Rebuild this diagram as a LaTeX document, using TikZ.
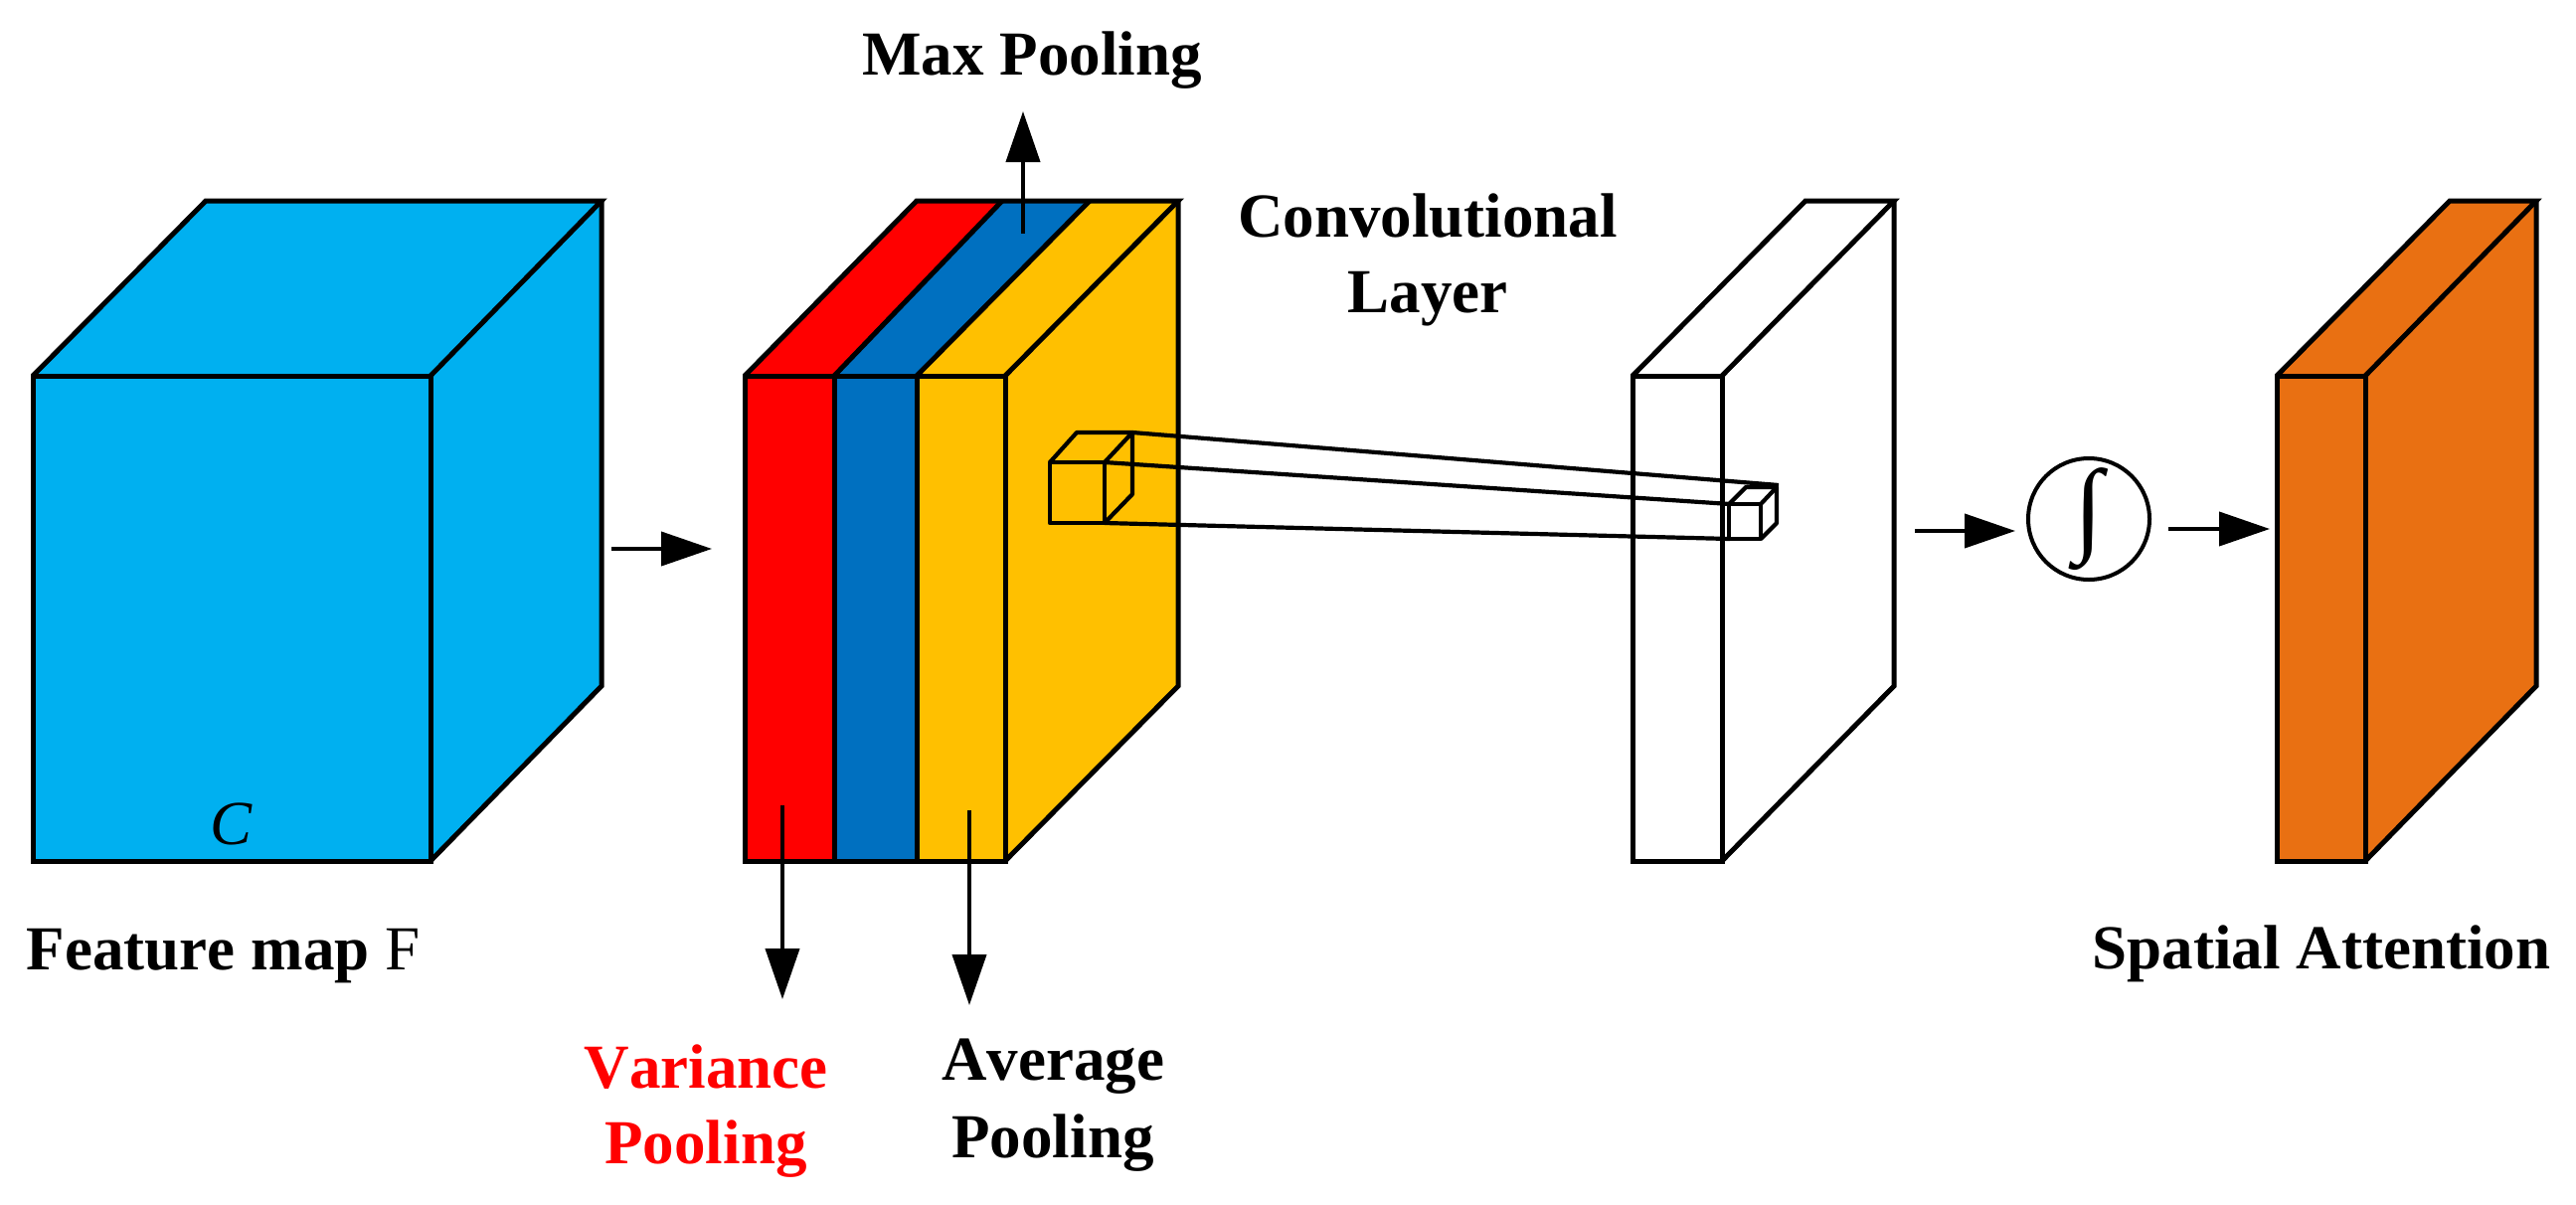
\documentclass[tikz,border=0pt]{standalone}
\usepackage{fontspec}
\setmainfont[Kerning=Off]{Liberation Serif}
\newfontfamily\intfont{Liberation Serif}
\usetikzlibrary{arrows.meta}
\definecolor{cyanface}{HTML}{00B0F0}
\definecolor{redface}{HTML}{FF0000}
\definecolor{blueface}{HTML}{0070C0}
\definecolor{yellowface}{HTML}{FFC000}
\definecolor{orangeface}{HTML}{E97012}
\tikzset{
  x=1pt,y=-1pt,
  edge/.style={draw=black,line width=5pt,line join=miter},
  thinedge/.style={draw=black,line width=4.2pt,line join=round},
  flow/.style={draw=black,line width=4pt,-{Triangle[length=51pt,width=34pt]},shorten >=0pt},
  lbl/.style={font=\fontsize{63}{70}\selectfont\bfseries,anchor=base,inner sep=0pt,outer sep=0pt},
}
\begin{document}
\begin{tikzpicture}
\useasboundingbox (0,0) rectangle (2591,1211);
% feature cube
\fill[cyanface] (33,378) -- (207,202) -- (605,202) -- (605,690) -- (433,866) -- (33,866) -- cycle;
\draw[edge] (33,378) rectangle (433,866);
\draw[edge] (33,378) -- (207,202) -- (605,202) -- (433,378);
\draw[edge] (605,202) -- (605,690) -- (433,866);
\node[anchor=base,inner sep=0pt,font=\fontsize{63}{70}\selectfont\itshape] (c) at (233,849) {C};
% pooling slab
\fill[redface] (749,378) -- (922,202) -- (1008,202) -- (839,378) -- (839,866) -- (749,866) -- cycle;
\fill[blueface] (839,378) -- (1008,202) -- (1096,202) -- (922,378) -- (922,866) -- (839,866) -- cycle;
\fill[yellowface] (922,378) -- (1096,202) -- (1185,202) -- (1185,690) -- (1011,866) -- (922,866) -- cycle;
\draw[edge] (749,378) rectangle (1011,866);
\draw[edge] (839,378) -- (839,866) (922,378) -- (922,866);
\draw[edge] (749,378) -- (922,202) -- (1185,202) -- (1011,378);
\draw[edge] (839,378) -- (1008,202) (922,378) -- (1096,202);
\draw[edge] (1185,202) -- (1185,690) -- (1011,866);
% white slab
\draw[edge,fill=white] (1642,378) rectangle (1732,866);
\draw[edge] (1642,378) -- (1816,202) -- (1905,202) -- (1732,378);
\draw[edge] (1905,202) -- (1905,690) -- (1732,866);
% orange slab
\fill[orangeface] (2290,378) -- (2464,202) -- (2551,202) -- (2551,690) -- (2379,866) -- (2290,866) -- cycle;
\draw[edge] (2290,378) rectangle (2379,866);
\draw[edge] (2290,378) -- (2464,202) -- (2551,202) -- (2379,378);
\draw[edge] (2551,202) -- (2551,690) -- (2379,866);
% small cube on slab
\coordinate (sft) at (1111,465);
\coordinate (sfb) at (1111,526);
\coordinate (sbt) at (1139,435);
\draw[thinedge] (1056,465) rectangle (1111,526);
\draw[thinedge] (1056,465) -- (1083,435) -- (1139,435) -- (1111,465);
\draw[thinedge] (1139,435) -- (1139,497) -- (1111,526);
% tiny cube
\coordinate (tft) at (1740,507);
\coordinate (tfb) at (1740,542);
\coordinate (tbt) at (1789,488);
\draw[thinedge] (1739,507) rectangle (1771,542);
\draw[thinedge] (1739,507) -- (1756,490) -- (1787,490) -- (1771,507);
\draw[thinedge] (1787,490) -- (1787,526) -- (1771,542);
% projection lines
\draw[thinedge] (sbt) -- (tbt);
\draw[thinedge] (sft) -- (tft);
\draw[thinedge] (sfb) -- (tfb);
% integral
\node[circle,draw=black,line width=4pt,minimum size=122pt,inner sep=0pt] (int) at (2101,522) {};
\node[inner sep=0pt,font=\fontsize{105}{110}\selectfont\intfont] (intsym) at (2101,522) {∫};
% arrows
\coordinate (a1s) at (615,552); \coordinate (a1e) at (716,552);
\coordinate (a2s) at (1926,534); \coordinate (a2e) at (2027,534);
\coordinate (a3s) at (2181,532); \coordinate (a3e) at (2283,532);
\coordinate (mxs) at (1029,235); \coordinate (mxe) at (1029,112);
\coordinate (vas) at (787,810); \coordinate (vae) at (787,1005);
\coordinate (avs) at (975,815); \coordinate (ave) at (975,1011);
\draw[flow] (a1s) -- (a1e);
\draw[flow] (a2s) -- (a2e);
\draw[flow] (a3s) -- (a3e);
\draw[flow] (mxs) -- (mxe);
\draw[flow] (vas) -- (vae);
\draw[flow] (avs) -- (ave);
% labels
\node[lbl] (max) at (1038,75) {Max Pooling};
\node[lbl] (conv1) at (1436,238) {Convolutional};
\node[lbl] (conv2) at (1436,314) {Layer};
\node[lbl,anchor=base west] (feat) at (27,975) {Feature map \textmd{F}};
\node[lbl] (spat) at (2335,974) {Spatial Attention};
\node[lbl,text=redface] (var1) at (710,1094) {Variance};
\node[lbl,text=redface] (var2) at (710,1170) {Pooling};
\node[lbl] (avg1) at (1059,1086) {Average};
\node[lbl] (avg2) at (1059,1164) {Pooling};
\end{tikzpicture}
\end{document}
